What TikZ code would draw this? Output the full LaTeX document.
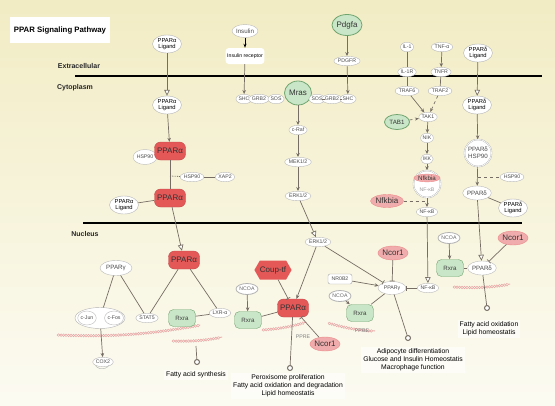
\documentclass[tikz,border=0pt]{standalone}
\usepackage{fontspec}
\setmainfont{Liberation Sans}
\usetikzlibrary{positioning, arrows.meta, shapes.geometric, shapes.symbols, decorations.pathmorphing}
\definecolor{bgtop}{RGB}{242,236,196}
\definecolor{bgbot}{RGB}{252,251,242}
\definecolor{ppred}{RGB}{228,88,88}
\definecolor{pppink}{RGB}{240,172,172}
\definecolor{ppgreen}{RGB}{202,230,200}
\definecolor{ppgreenD}{RGB}{112,165,112}
\definecolor{edgegray}{RGB}{118,110,100}
\definecolor{dnapink}{RGB}{232,165,165}
\newcommand{\tinyf}{\fontsize{5.2}{5.6}\selectfont}
\newcommand{\smallf}{\fontsize{6.2}{6.8}\selectfont}
\newcommand{\genef}{\fontsize{8}{9}\selectfont}
\tikzset{
	>=Stealth, % default arrow head
	mol/.style={ellipse, draw=gray!55, fill=white, inner sep=0.2pt, minimum width=12pt, minimum height=9.5pt, font=\tinyf, text=black!70}, % plain white molecule
	lig/.style={ellipse, draw=gray!60, fill=white, align=center, font=\fontsize{5.8}{6.2}\selectfont, minimum width=29pt, minimum height=18pt, inner sep=-1pt}, % ligand bubble
	redp/.style={rectangle, rounded corners=6pt, fill=ppred, draw=ppred!85!black, font=\genef, text=black!80, minimum width=31pt, minimum height=18pt, inner sep=1pt}, % PPAR alpha
	pinkp/.style={ellipse, fill=pppink, draw=ppred!70, font=\genef, text=black!80, inner sep=0pt}, % repressors
	greenp/.style={rectangle, rounded corners=5pt, fill=ppgreen, draw=ppgreenD, font=\smallf, text=black!75, minimum width=27pt, minimum height=17pt, inner sep=1pt}, % Rxra
	greenc/.style={ellipse, fill=ppgreen, draw=ppgreenD, line width=0.8pt, font=\genef, text=black!80, inner sep=0pt}, % green circles
	coact/.style={ellipse, draw=gray!60, line width=0.8pt, fill=white, font=\tinyf, text=black!60, minimum width=22pt, minimum height=11pt, inner sep=-1pt}, % NCOA
	cplx/.style={circle, double, draw=gray!60, fill=white, align=center, font=\tinyf, text=black!70, minimum size=27pt, inner sep=-2pt}, % complexes
	outcome/.style={circle, draw=edgegray, line width=1pt, fill=white, minimum size=5pt, inner sep=0pt}, % end point of a pathway
	outtext/.style={fill=white, fill opacity=0.55, text opacity=1, align=center, font=\fontsize{6.8}{8}\selectfont, inner sep=2pt}, % outcome text
	region/.style={font=\bfseries\fontsize{7}{8}\selectfont, text=black!85}, % compartment names
	titlebox/.style={fill=white, minimum width=100pt, minimum height=26pt, font=\bfseries\fontsize{7.8}{9}\selectfont}, % title
	ppre/.style={font=\tinyf, text=gray}, % PPRE labels
	membrane/.style={line width=1.6pt, black}, % membranes
	act/.style={-{Stealth[length=4pt, width=3.5pt]}, draw=edgegray, line width=0.7pt}, % activation
	trans/.style={-{Triangle[length=6pt, width=5.5pt, fill=white]}, draw=edgegray, line width=0.7pt}, % translocation
	inhib/.style={-{Bar[width=5pt]}, draw=edgegray, line width=0.7pt}, % inhibition
	bind/.style={-, draw=edgegray, line width=0.7pt}, % binding
	dashrel/.style={-, draw=edgegray, line width=0.7pt, dashed}, % indirect
	dotrel/.style={-, draw=edgegray, line width=0.8pt, densely dotted}, % dotted link
	dna/.style={draw=dnapink, line width=0.5pt, decorate, decoration={snake, amplitude=1.3pt, segment length=5pt}}, % DNA strand
}
\begin{document}
\begin{tikzpicture}[x=1pt, y=-1pt]
	\useasboundingbox (0,0) rectangle (555,405);
	\fill[top color=bgtop, bottom color=bgbot] (0,0) rectangle (555,405);
	% title and compartments
	\node[titlebox] (title) at (60,30) {PPAR Signaling Pathway};
	\node[region] (extra) at (79,66) {Extracellular};
	\node[region] (cyto) at (75,88) {Cytoplasm};
	\node[region] (nucl) at (85,234) {Nucleus};
	\coordinate (pmL) at (75,76);
	\coordinate (pmR) at (542,76);
	\coordinate (nmL) at (83,223);
	\coordinate (nmR) at (522,223);
	\draw[membrane] (pmL) -- (pmR);
	\draw[membrane] (nmL) -- (nmR);
	% DNA
	\foreach \ax/\ay/\bx/\by in {57/335/200/325, 172/341/222/337, 262/330/306/322, 328/323/375/331, 453/287/510/284} {
		\draw[dna] (\ax,\ay) to[bend right=6] (\bx,\by);
		\draw[dna, decoration={mirror}] (\ax,\ay) to[bend right=6] (\bx,\by);
	}
	% PPAR alpha branch
	\node[lig] (aLigTop) at (167,44) {PPARα\\Ligand};
	\node[lig] (aLigCyt) at (167,105) {PPARα\\Ligand};
	\node[mol, minimum size=15pt] (aHsp) at (145,157) {HSP90};
	\node[redp] (aCyt1) at (170,151) {PPARα};
	\node[redp] (aCyt2) at (170,198) {PPARα};
	\node[lig] (aLigSide) at (124,205) {PPARα\\Ligand};
	\coordinate (aMid) at (170,176);
	\node[mol] (hspA) at (192,177) {HSP90};
	\node[mol] (xap) at (225,177) {XAP2};
	\node[redp] (aNuc) at (184,260) {PPARα};
	\draw	(aLigTop) edge[trans] (aLigCyt)
			(aLigCyt) edge[act] (aCyt1)
			(aCyt1) edge[bind] (aCyt2)
			(aLigSide) edge[bind] (aCyt2)
			(aMid) edge[dotrel] (hspA)
			(hspA) edge[bind] (xap)
			(aCyt2) edge[trans] (aNuc);
	% left nucleus
	\node[mol, font=\smallf, minimum width=32pt, minimum height=15pt] (gL) at (116,268) {PPARγ};
	\node[ellipse, draw=gray!60, fill=white, minimum width=50pt, minimum height=21pt] (junfos) at (100,318) {};
	\node[mol, minimum height=14pt] (jun) at (87,318) {c-Jun};
	\node[mol, minimum height=14pt] (fos) at (114,318) {c-Fos};
	\node[mol] (stat) at (147,318) {STAT5};
	\node[greenp] (rxL) at (182,318) {Rxra};
	\node[mol] (lxr) at (220,313) {LXR-α};
	\node[mol] (cox) at (103,362) {COX2};
	\draw[gray!60] (cox.south west) arc[start angle=200, end angle=340, x radius=7pt, y radius=5pt];
	\coordinate (fasTop) at (196,346);
	\node[outcome] (fasDot) at (197,362) {};
	\node[outtext] (fasTxt) at (196,375) {Fatty acid synthesis};
	\draw	(gL) edge[bind] (junfos)
			(gL) edge[bind] (stat)
			(aNuc) edge[bind] (stat)
			(aNuc) edge[bind] (lxr)
			(rxL) edge[bind] (lxr)
			(junfos) edge[act] (cox)
			(fasTop) edge[bind] (fasDot);
	% insulin and PDGF branch
	\node[mol, font=\smallf, minimum width=24pt, minimum height=13pt] (ins) at (245,31) {Insulin};
	\node[fill=white, rounded corners=3pt, font=\tinyf, inner sep=1.5pt, minimum height=16pt] (insR) at (245,56) {Insulin receptor};
	\node[greenc, minimum width=30pt, minimum height=21pt] (pdgfa) at (347,25) {Pdgfa};
	\node[mol] (pdgfr) at (347,61) {PDGFR};
	\node[mol] (shcA) at (244,99) {SHC};
	\node[mol] (grbA) at (259,99) {GRB2};
	\node[mol] (sosA) at (276,99) {SOS};
	\node[greenc, minimum width=27pt, minimum height=24pt] (mras) at (298,93) {Mras};
	\node[mol] (sosB) at (317,99) {SOS};
	\node[mol] (grbB) at (332,99) {GRB2};
	\node[mol] (shcB) at (348,99) {SHC};
	\node[mol] (craf) at (298,130) {c-Raf};
	\node[mol] (mek) at (298,162) {MEK1/2};
	\node[mol] (erkC) at (298,196) {ERK1/2};
	\draw	(ins) edge[-{Stealth[length=4pt]}, black, line width=0.8pt] (insR)
			(insR) edge[act] (shcA)
			(pdgfa) edge[act] (pdgfr)
			(pdgfr) edge[act] (shcB)
			(sosB) edge[bind] (grbB)
			(grbB) edge[bind] (shcB)
			(mras) edge[act] (craf)
			(craf) edge[act] (mek)
			(mek) edge[act] (erkC);
	% center nucleus
	\node[mol] (erkN) at (318,242) {ERK1/2};
	\node[signal, signal to=west and east, signal pointer angle=120, fill=ppred, font=\genef, text=black!80, minimum width=30pt, minimum height=19pt, inner sep=0pt] (coup) at (273,270) {Coup-tf};
	\node[redp] (aCen) at (293,308) {PPARα};
	\node[coact] (ncoaC) at (247,289) {NCOA};
	\node[greenp] (rxC) at (248,320) {Rxra};
	\node[pinkp, minimum width=30pt, minimum height=14pt] (ncorC) at (325,344) {Ncor1};
	\node[ppre] (ppreC) at (303,337) {PPRE};
	\node[outcome] (perDot) at (290,368) {};
	\node[outtext] (perTxt) at (288,386) {Peroxisome proliferation\\Fatty acid oxidation and degradation\\Lipid homeostatis};
	\draw	(erkC) edge[trans] (erkN)
			(erkN) edge[act] (aCen)
			(coup) edge[inhib] (aCen)
			(ncoaC) edge[act] (rxC)
			(rxC) edge[bind] (aCen)
			(ncorC) edge[inhib] (aCen)
			(aCen) edge[bind] (perDot);
	% PPAR gamma (right)
	\node[mol, rounded corners=2pt, rectangle, draw=gray!70, font=\tinyf, minimum width=24pt, minimum height=10pt] (nr) at (340,279) {NR0B2};
	\node[coact] (ncoaR) at (340,296) {NCOA};
	\node[mol, minimum width=28pt, minimum height=13pt] (gR) at (392,288) {PPARγ};
	\node[pinkp, minimum width=30pt, minimum height=14pt] (ncorR) at (393,253) {Ncor1};
	\node[greenp] (rxR) at (360,313) {Rxra};
	\node[ppre] (ppreR) at (362,331) {PPRE};
	\node[mol] (nfkN) at (428,288) {NF-κB};
	\node[outcome] (adiDot) at (408,338) {};
	\node[outtext] (adiTxt) at (413,360) {Adipocyte differentiation\\Glucose and Insulin Homeostatis\\Macrophage function};
	\draw	(erkN) edge[inhib] (gR)
			(nr) edge[act] (gR)
			(ncorR) edge[inhib] (gR)
			(ncoaR) edge[act] (rxR)
			(rxR) edge[bind] (gR)
			(nfkN) edge[inhib] (gR)
			(gR) edge[bind] (adiDot);
	% IL-1 and TNF branch
	\node[mol] (il1) at (407,47) {IL-1};
	\node[mol] (tnfa) at (442,47) {TNF-α};
	\node[mol] (il1r) at (407,72) {IL-1R};
	\node[mol] (tnfr) at (441,72) {TNFR};
	\node[mol] (traf6) at (407,91) {TRAF6};
	\node[mol] (traf2) at (440,91) {TRAF2};
	\node[mol] (tak1) at (428,117) {TAK1};
	\node[greenc, font=\smallf, minimum width=25pt, minimum height=15pt] (tab1) at (397,122) {TAB1};
	\node[mol] (nik) at (427,138) {NIK};
	\node[mol] (ikk) at (427,159) {IKK};
	\node[cplx] (nfkCplx) at (427,184) {};
	\node[pinkp, font=\smallf, inner sep=0.5pt] (nfkbiaIn) at (427,178) {Nfkbia};
	\node[font=\tinyf, text=gray!80, inner sep=0.5pt] (nfkbIn) at (427,190) {NF-κB};
	\node[pinkp, minimum width=33pt, minimum height=13pt] (nfkbia) at (387,201) {Nfkbia};
	\coordinate (nfkMid) at (427,201);
	\node[mol] (nfkC) at (427,212) {NF-κB};
	\draw	(il1) edge[bind] (il1r)
			(tnfa) edge[act] (tnfr)
			(il1r) edge[bind] (traf6)
			(tnfr) edge[bind] (traf2)
			(traf6) edge[act] (tak1)
			(traf2) edge[dashrel, -{Stealth[length=4pt]}] (tak1)
			(tab1) edge[dashrel, -{Stealth[length=4pt]}] (tak1)
			(tak1) edge[act] (nik)
			(nik) edge[act] (ikk)
			(ikk) edge[act] (nfkCplx)
			(nfkCplx) edge[act] (nfkC)
			(nfkbia) edge[dashrel] (nfkMid)
			(nfkC) edge[trans] (nfkN);
	% PPAR delta branch
	\node[lig] (dLigTop) at (478,53) {PPARδ\\Ligand};
	\node[lig] (dLigCyt) at (477,105) {PPARδ\\Ligand};
	\node[cplx, font=\smallf] (dCplx) at (478,153) {PPARδ\\HSP90};
	\coordinate (dMid) at (478,177);
	\node[mol] (hspD) at (512,177) {HSP90};
	\node[mol, font=\smallf, minimum width=28pt, minimum height=14pt] (dCyt) at (477,193) {PPARδ};
	\node[lig] (dLigSide) at (513,208) {PPARδ\\Ligand};
	\node[coact] (ncoaD) at (449,238) {NCOA};
	\node[pinkp, minimum width=30pt, minimum height=14pt] (ncorD) at (513,238) {Ncor1};
	\node[greenp] (rxD) at (450,268) {Rxra};
	\node[mol, font=\smallf, minimum width=28pt, minimum height=14pt] (dNuc) at (482,268) {PPARδ};
	\node[outcome] (fatDot) at (487,308) {};
	\node[outtext] (fatTxt) at (489,329) {Fatty acid oxidation\\Lipid homeostatis};
	\draw	(dLigTop) edge[trans] (dLigCyt)
			(dLigCyt) edge[act] (dCplx)
			(dMid) edge[dashrel] (hspD)
			(dCplx) edge[act] (dCyt)
			(dCyt) edge[bind] (dLigSide)
			(dCyt) edge[trans] (dNuc)
			(ncoaD) edge[act] (rxD)
			(ncorD) edge[inhib] (dNuc)
			(rxD) edge[bind] (dNuc)
			(dNuc) edge[bind] (fatDot);
\end{tikzpicture}
\end{document}
